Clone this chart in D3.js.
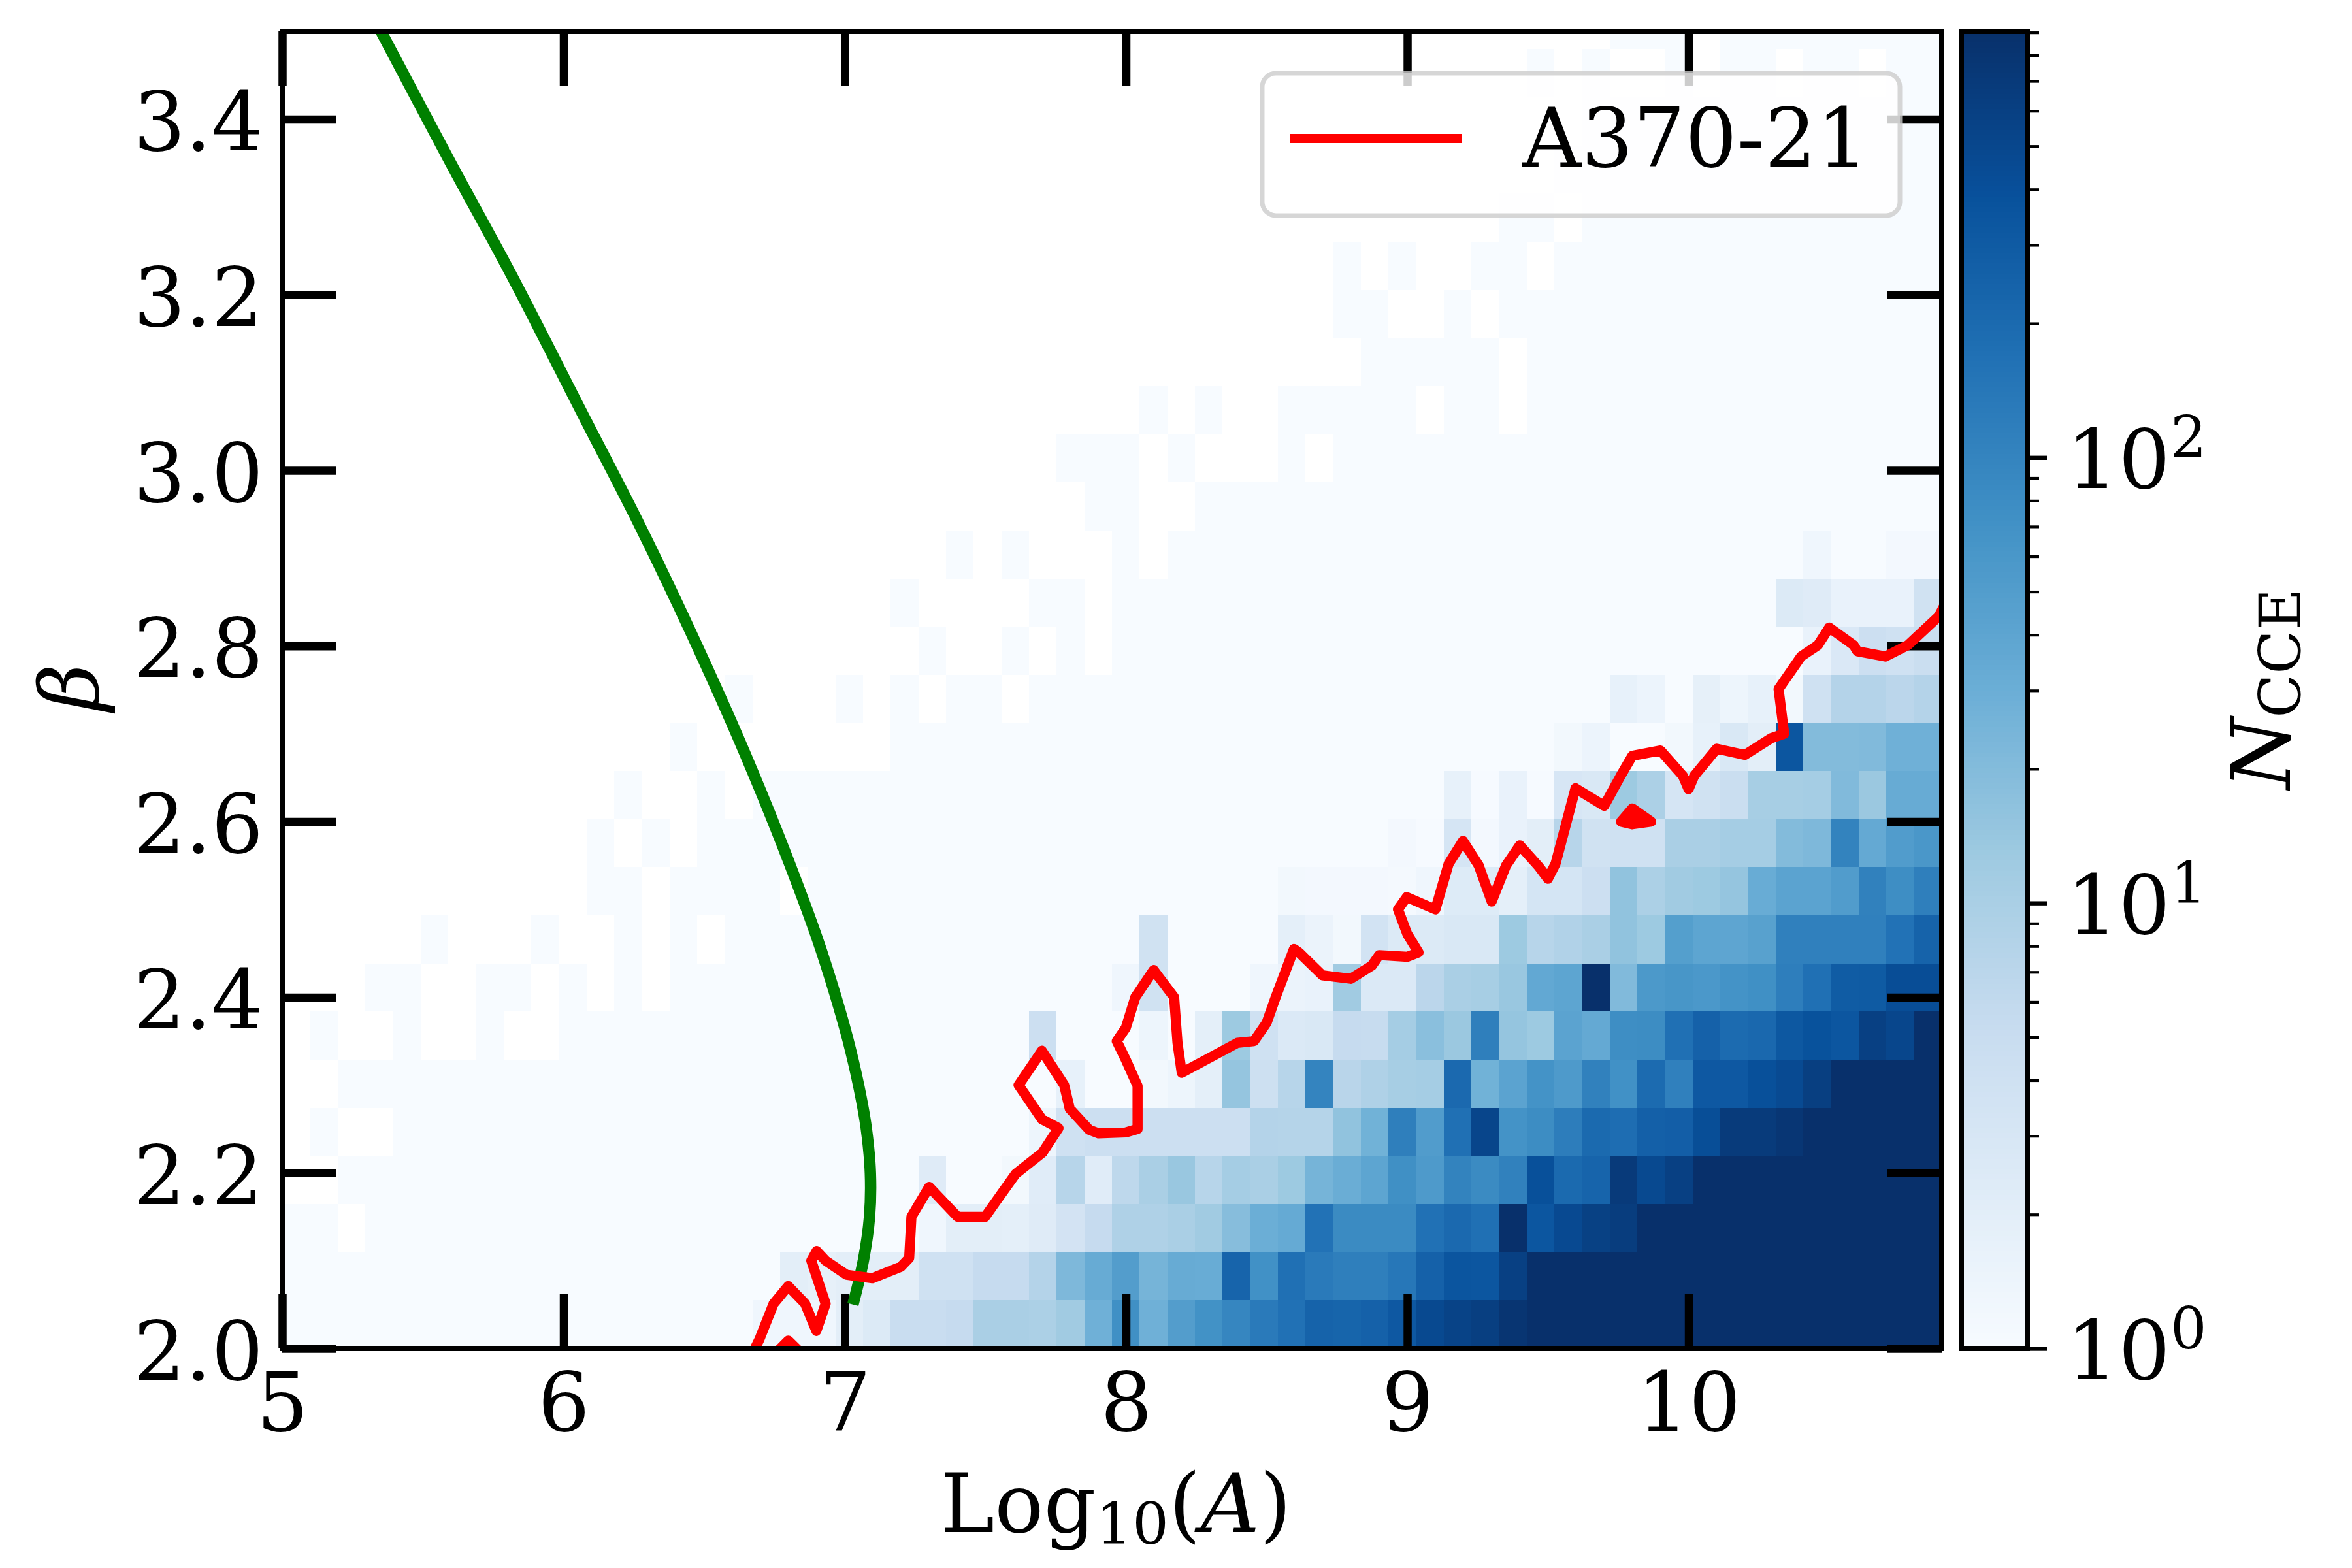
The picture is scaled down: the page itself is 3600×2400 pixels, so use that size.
<!DOCTYPE html>
<html>
<head>
<meta charset="utf-8">
<style>html,body{margin:0;padding:0;background:#fff}svg{display:block}text{font-family:"DejaVu Serif",serif;fill:#000}</style>
<script src="https://cdn.jsdelivr.net/npm/d3@7"></script>
</head>
<body>
<script>
const xTicks = [5, 6, 7, 8, 9, 10];
const yTicks = [2.0, 2.2, 2.4, 2.6, 2.8, 3.0, 3.2, 3.4];
const cbarMajor = [1, 10, 100];
const cbarExponents = ["0", "1", "2"];
const cbarMinor = [2,3,4,5,6,7,8,9,20,30,40,50,60,70,80,90,200,300,400,500,600,700,800,900];
const blues = ["#f7fbff","#deebf7","#c6dbef","#9ecae1","#6baed6","#4292c6","#2171b5","#08519c","#08306b"];
const xBinWidth = 5.9 / 60;
const yBinWidth = 0.0548;
const legendLabel = "A370-21";

// counts, bottom row first; 0 = empty bin
const countRows = [
[1,1,1,1,1,1,1,1,1,1,1,1,1,1,1,1,1,1.3,1.3,1.3,2,2.5,5,5,5.5,10,10,9.5,12,28,75,28,50,70,95,130,165,240,230,250,320,480,560,620,800,905,905,905,905,905,905,905,905,905,905,905,905,905,905,905],
[1,1,1,1,1,1,1,1,1,1,1,1,1,1,1,1,1,1,2,1.8,2,2,2,4,4,5.5,5.5,8,22,33,50,25,33,32,235,72,170,130,115,115,140,250,350,340,600,905,905,905,905,905,905,905,905,905,905,905,905,905,905,905],
[1,1,0,1,1,1,1,1,1,1,1,1,1,1,1,1,1,1,1,1,1,1,1,1.3,2,2,1.9,2.3,3.5,5.5,9,9,10,12,19,30,34,160,85,85,85,165,205,170,905,340,470,590,650,905,905,905,905,905,905,905,905,905,905,905],
[0,0,1,1,1,1,1,1,1,1,1,1,1,1,1,1,1,1,1,1,1,1,1,2.3,1,1,1.2,2.2,7.5,2.2,6.5,10,14,7.5,11,10,13,25,31,40,75,55,105,85,110,400,200,235,700,480,600,905,905,905,905,905,905,905,905,905],
[0,1,0,0,1,1,1,1,1,1,1,1,1,1,1,1,1,1,1,1,1,1,1,1,1,1,1,1.4,4,4.5,4.5,4.5,4.5,4.5,4.5,8,7.8,7.8,16,27,115,52,170,520,68,80,120,200,185,260,270,420,680,680,780,905,905,905,905,905],
[0,0,1,1,1,1,1,1,1,1,1,1,1,1,1,1,1,1,1,1,1,1,1,1,1,1,1,1,1.7,1,1,1.2,1.4,1.9,15,4.3,7.5,100,7.3,9,10.5,11,205,27,42,68,55,108,72,195,112,320,320,400,460,620,905,905,905,905],
[0,1,0,0,1,0,0,1,0,0,1,1,1,1,1,1,1,1,1,1,1,1,1,1,1,1,1,4.4,1,1,1,1.4,1,1.9,13,4,2.6,2.8,5.5,5.3,11,18,13.5,115,15,13,42,35,78,80,170,250,195,210,325,380,340,600,510,905],
[0,0,0,1,1,0,0,1,1,0,1,0,1,0,1,1,1,1,1,1,1,1,1,1,1,1,1,1,1,1,1.3,3.8,1,1,1,1.3,1.5,1.6,12,2.6,2.6,7,10,10.5,14,36,40,905,21,57,62,58,68,75,118,170,290,300,430,430],
[0,0,0,0,0,1,0,0,0,1,0,0,1,0,1,0,1,1,1,1,1,1,1,1,1,1,1,1,1,1,1,3.8,1,1,1,1,1.9,1.5,1.2,3.6,2.5,2.5,2.8,2.8,13,7.5,8.5,10,16,13,48,40,39,45,112,112,112,112,160,240],
[0,0,0,0,0,0,0,0,0,0,0,1,1,0,1,1,1,1,0,1,1,1,1,1,1,1,1,1,1,1,1,1,1,1,1,1,1.2,1.15,1.15,1.15,1.1,1.3,2.4,2.4,1.9,3.3,3.3,4.5,16,9.5,12,13,15,32,42,42,52,110,78,115],
[0,0,0,0,0,0,0,0,0,0,0,1,0,1,0,1,1,1,1,1,1,1,1,1,1,1,1,1,1,1,1,1,1,1,1,1,1,1,1,1,1.15,1.05,3.2,1.15,1.6,2,7.5,3.8,4,4,10,10,11,11,20,22,105,35,52,60],
[0,0,0,0,0,0,0,0,0,0,0,0,1,0,0,1,0,1,1,1,1,1,1,1,1,1,1,1,1,1,1,1,1,1,1,1,1,1,1,1,1,1,1.7,1.05,1.6,1.05,3,2.8,13,9.5,3.2,3.8,4.8,10.5,10.5,11,21,13.5,33,33],
[0,0,0,0,0,0,0,0,0,0,0,0,0,0,1,0,0,0,0,0,0,0,1,1,1,1,1,1,1,1,1,1,1,1,1,1,1,1,1,1,1,1,1,1,1,1,1.2,1.45,1,1,1.2,1.7,2.8,2,340,20,20,21,28,28],
[0,0,0,0,0,0,0,0,0,0,0,0,0,0,0,0,1,0,0,0,1,0,1,0,1,1,0,1,1,1,1,1,1,1,1,1,1,1,1,1,1,1,1,1,1,1,1,1,1.7,1.45,1,1.8,1.4,1.7,1.2,4,8,8,7,8],
[0,0,0,0,0,0,0,0,0,0,0,0,0,0,0,0,0,0,0,0,0,0,0,1,0,0,1,0,1,0,1,1,1,1,1,1,1,1,1,1,1,1,1,1,1,1,1,1,1,1,1,1,1,1,1,1.6,2.7,4.4,4,4.7],
[0,0,0,0,0,0,0,0,0,0,0,0,0,0,0,0,0,0,0,0,0,0,1,0,0,0,0,1,1,0,1,1,1,1,1,1,1,1,1,1,1,1,1,1,1,1,1,1,1,1,1,1,1,1,2.5,2.3,1.6,1.6,1.6,3.8],
[0,0,0,0,0,0,0,0,0,0,0,0,0,0,0,0,0,0,0,0,0,0,0,0,1,0,1,0,0,0,1,0,1,1,1,1,1,1,1,1,1,1,1,1,1,1,1,1,1,1,1,1,1,1,1,1.3,1,1,1.15,1.15],
[0,0,0,0,0,0,0,0,0,0,0,0,0,0,0,0,0,0,0,0,0,0,0,0,0,0,0,0,0,1,1,0,0,1,1,1,1,1,1,1,1,1,1,1,1,1,1,1,1,1,1,1,1,1,1,1,1,1,1,1],
[0,0,0,0,0,0,0,0,0,0,0,0,0,0,0,0,0,0,0,0,0,0,0,0,0,0,0,0,1,1,1,0,1,0,0,0,1,0,1,1,1,1,1,1,1,1,1,1,1,1,1,1,1,1,1,1,1,1,1,1],
[0,0,0,0,0,0,0,0,0,0,0,0,0,0,0,0,0,0,0,0,0,0,0,0,0,0,0,0,0,0,0,1,0,1,0,0,1,1,1,1,1,0,1,1,0,1,1,1,1,1,1,1,1,1,1,1,1,1,1,1],
[0,0,0,0,0,0,0,0,0,0,0,0,0,0,0,0,0,0,0,0,0,0,0,0,0,0,0,0,0,0,0,0,0,0,0,0,0,0,0,1,1,1,1,1,0,1,1,1,1,1,1,1,1,1,1,1,1,1,1,1],
[0,0,0,0,0,0,0,0,0,0,0,0,0,0,0,0,0,0,0,0,0,0,0,0,0,0,0,0,0,0,0,0,0,0,0,0,0,0,1,1,0,0,1,0,1,1,1,1,1,1,1,1,1,1,1,1,1,1,1,1],
[0,0,0,0,0,0,0,0,0,0,0,0,0,0,0,0,0,0,0,0,0,0,0,0,0,0,0,0,0,0,0,0,0,0,0,0,0,0,1,0,1,0,0,1,1,0,1,1,1,1,1,1,1,1,1,1,1,1,1,1],
[0,0,0,0,0,0,0,0,0,0,0,0,0,0,0,0,0,0,0,0,0,0,0,0,0,0,0,0,0,0,0,0,0,0,0,0,0,0,0,0,0,0,0,0,1,1,0,1,1,1,1,1,1,1,1,1,1,1,1,1],
[0,0,0,0,0,0,0,0,0,0,0,0,0,0,0,0,0,0,0,0,0,0,0,0,0,0,0,0,0,0,0,0,0,0,0,0,0,0,0,0,0,0,0,0,0,0,1,1,1,1,1,1,1,1,1,1,1,1,1,1],
[0,0,0,0,0,0,0,0,0,0,0,0,0,0,0,0,0,0,0,0,0,0,0,0,0,0,0,0,0,0,0,0,0,0,0,0,0,0,0,0,0,0,0,0,0,0,0,1,1,1,1,1,1,1,1,1,1,1,1,1],
[0,0,0,0,0,0,0,0,0,0,0,0,0,0,0,0,0,0,0,0,0,0,0,0,0,0,0,0,0,0,0,0,0,0,0,0,0,0,0,0,0,0,0,0,0,1,0,1,0,0,1,0,1,1,0,1,1,0,1,1],
[0,0,0,0,0,0,0,0,0,0,0,0,0,0,0,0,0,0,0,0,0,0,0,0,0,0,0,0,0,0,0,0,0,0,0,0,0,0,0,0,0,0,0,0,0,0,0,0,1,1,1,0,1,1,1,1,1,1,1,1]
];

const greenX = [5.351,5.599,5.814,6.081,6.259,6.407,6.592,6.702,6.799,6.903,6.965,7.011,7.049,7.076,7.091,7.088,7.066,7.029];
const greenY = [3.5,3.350,3.223,3.056,2.945,2.847,2.717,2.634,2.556,2.466,2.404,2.352,2.300,2.252,2.200,2.150,2.100,2.050];

const redX = [6.665,6.696,6.747,6.799,6.859,6.899,6.932,6.881,6.900,6.932,7.006,7.098,7.199,7.229,7.237,7.300,7.401,7.499,7.608,7.703,7.760,7.701,7.618,7.701,7.780,7.800,7.869,7.902,7.999,8.041,8.041,7.999,7.967,7.999,8.033,8.098,8.171,8.183,8.198,8.396,8.455,8.500,8.532,8.597,8.615,8.698,8.799,8.874,8.900,9.000,9.040,9.000,8.967,8.998,9.100,9.147,9.198,9.254,9.300,9.351,9.400,9.467,9.500,9.527,9.598,9.700,9.760,9.800,9.900,9.980,10.000,10.020,10.100,10.200,10.294,10.340,10.320,10.400,10.460,10.500,10.587,10.600,10.700,10.780,10.890,10.920];
const redY = [1.99,2.010,2.051,2.071,2.051,2.020,2.051,2.100,2.111,2.100,2.084,2.080,2.093,2.103,2.150,2.184,2.150,2.150,2.199,2.223,2.251,2.261,2.300,2.339,2.300,2.273,2.249,2.245,2.246,2.250,2.299,2.329,2.350,2.365,2.400,2.431,2.400,2.348,2.314,2.348,2.350,2.371,2.400,2.455,2.451,2.425,2.421,2.436,2.448,2.446,2.451,2.472,2.500,2.514,2.500,2.552,2.578,2.550,2.509,2.550,2.573,2.549,2.535,2.552,2.638,2.618,2.653,2.675,2.681,2.652,2.637,2.652,2.683,2.676,2.695,2.700,2.751,2.788,2.801,2.821,2.801,2.794,2.788,2.801,2.834,2.853];
const redLoopX = [9.800,9.760,9.800,9.867];
const redLoopY = [2.615,2.600,2.597,2.600];
const redFootX = [6.740,6.799,6.860];
const redFootY = [1.99,2.009,1.99];

const W = 3600, H = 2400;
const plot = {l:432, r:2972, t:48, b:2064};
const bar = {l:3002, r:3103};
const x = d3.scaleLinear().domain([5, 10.9]).range([plot.l, plot.r]);
const y = d3.scaleLinear().domain([2, 3.5]).range([plot.b, plot.t]);
const vmax = 905;
const ramp = d3.scaleLinear().domain(blues.map((_, i) => i / (blues.length - 1))).range(blues).interpolate(d3.interpolateRgb);
const norm = d3.scaleLog().domain([1, vmax]).range([0, 1]).clamp(true);
const color = v => ramp(norm(v));
const cy = d3.scaleLog().domain([1, vmax]).range([plot.b, plot.t]);

const svg = d3.select("body").append("svg").attr("width", W).attr("height", H).attr("viewBox", `0 0 ${W} ${H}`);
svg.append("rect").attr("width", W).attr("height", H).attr("fill", "#fff");
svg.append("clipPath").attr("id", "plotClip").append("rect")
  .attr("x", plot.l).attr("y", plot.t).attr("width", plot.r - plot.l).attr("height", plot.b - plot.t);

const FS = 125;
const cells = [];
countRows.forEach((row, r) => row.forEach((v, k) => { if (v > 0) cells.push({k, r, v}); }));
const gHeat = svg.append("g").attr("clip-path", "url(#plotClip)");
gHeat.selectAll("rect").data(cells).join("rect")
  .attr("x", d => x(5 + d.k * xBinWidth))
  .attr("width", d => x(5 + (d.k + 1) * xBinWidth) - x(5 + d.k * xBinWidth))
  .attr("y", d => y(2 + (d.r + 1) * yBinWidth))
  .attr("height", d => y(2 + d.r * yBinWidth) - y(2 + (d.r + 1) * yBinWidth))
  .attr("fill", d => color(d.v))
  .attr("shape-rendering", "crispEdges");

// ticks
function styleAxis(g, w) {
  g.select(".domain").remove();
  g.selectAll(".tick line").attr("stroke", "#000").attr("stroke-width", w);
}
const TL = 83, TW = 12.5;
const aBottom = svg.append("g").attr("transform", `translate(0,${plot.b})`)
  .call(d3.axisBottom(x).tickValues(xTicks).tickSize(-TL).tickFormat(d3.format("d")));
styleAxis(aBottom, TW);
aBottom.selectAll("text").attr("y", 126).attr("dy", 0).attr("font-size", FS).attr("font-family", "DejaVu Serif").attr("text-anchor", "middle");
const aTop = svg.append("g").attr("transform", `translate(0,${plot.t})`)
  .call(d3.axisTop(x).tickValues(xTicks).tickSize(-TL).tickFormat(""));
styleAxis(aTop, TW);
const aLeft = svg.append("g").attr("transform", `translate(${plot.l},0)`)
  .call(d3.axisLeft(y).tickValues(yTicks).tickSize(-TL).tickFormat(d3.format(".1f")));
styleAxis(aLeft, TW);
aLeft.selectAll("text").attr("x", -29).attr("dy", 47).attr("font-size", FS).attr("font-family", "DejaVu Serif").attr("text-anchor", "end");
const aRight = svg.append("g").attr("transform", `translate(${plot.r},0)`)
  .call(d3.axisRight(y).tickValues(yTicks).tickSize(-TL).tickFormat(""));
styleAxis(aRight, TW);

// lines
const line = d3.line().x(d => x(d[0])).y(d => y(d[1]));
const smooth = d3.line().x(d => x(d[0])).y(d => y(d[1])).curve(d3.curveCatmullRom.alpha(0.5));
const gLines = svg.append("g").attr("clip-path", "url(#plotClip)");
gLines.append("path").attr("d", smooth(greenX.map((v, i) => [v, greenY[i]])))
  .attr("fill", "none").attr("stroke", "#008000").attr("stroke-width", 17.5);
const redStyle = p => p.attr("fill", "none").attr("stroke", "#ff0000").attr("stroke-width", 15.5)
  .attr("stroke-linejoin", "round").attr("stroke-linecap", "round");
gLines.append("path").attr("d", line(redX.map((v, i) => [v, redY[i]]))).call(redStyle);
gLines.append("path").attr("d", line(redFootX.map((v, i) => [v, redFootY[i]]))).call(redStyle);
gLines.append("path").attr("d", line(redLoopX.map((v, i) => [v, redLoopY[i]])) + "Z").attr("fill", "#ff0000")
  .attr("stroke", "#ff0000").attr("stroke-width", 15.5).attr("stroke-linejoin", "round");

// spines
svg.append("rect").attr("x", plot.l).attr("y", plot.t).attr("width", plot.r - plot.l).attr("height", plot.b - plot.t)
  .attr("fill", "none").attr("stroke", "#000").attr("stroke-width", 8);

// legend
const gLegend = svg.append("g");
gLegend.append("rect").attr("x", 1932).attr("y", 112).attr("width", 976).attr("height", 218).attr("rx", 21).attr("ry", 21)
  .attr("fill", "#fff").attr("fill-opacity", 0.8).attr("stroke", "#cccccc").attr("stroke-opacity", 0.8).attr("stroke-width", 7);
gLegend.append("line").attr("x1", 1974).attr("x2", 2237).attr("y1", 212).attr("y2", 212)
  .attr("stroke", "#ff0000").attr("stroke-width", 14);
gLegend.append("text").attr("x", 2330).attr("y", 255).attr("font-size", FS).text(legendLabel);

// axis labels
const xl = svg.append("text").attr("x", 1708).attr("y", 2345).attr("text-anchor", "middle").attr("font-size", FS);
xl.append("tspan").text("Log");
xl.append("tspan").attr("font-size", FS * 0.7).attr("dy", 18).text("10");
xl.append("tspan").attr("dy", -18).text("(");
xl.append("tspan").attr("font-style", "italic").text("A");
xl.append("tspan").text(")");
svg.append("text").attr("transform", `translate(150,${(plot.t + plot.b) / 2 - 4}) rotate(-90)`)
  .attr("text-anchor", "middle").attr("font-size", FS).attr("font-style", "italic").text("β");

// colorbar
const levels = d3.range(256).map(i => i / 256);
const lv = t => Math.pow(vmax, t);
svg.append("g").selectAll("rect").data(levels).join("rect")
  .attr("x", bar.l).attr("width", bar.r - bar.l)
  .attr("y", d => cy(lv(d + 1 / 256)))
  .attr("height", d => cy(lv(d)) - cy(lv(d + 1 / 256)) + 1)
  .attr("fill", d => ramp(d + 0.5 / 256))
  .attr("shape-rendering", "crispEdges");
svg.append("rect").attr("x", bar.l).attr("y", plot.t).attr("width", bar.r - bar.l).attr("height", plot.b - plot.t)
  .attr("fill", "none").attr("stroke", "#000").attr("stroke-width", 8);
const cMajor = svg.append("g").attr("transform", `translate(${bar.r},0)`)
  .call(d3.axisRight(cy).tickValues(cbarMajor).tickSize(30).tickFormat(""));
styleAxis(cMajor, 6.4);
const cMinor = svg.append("g").attr("transform", `translate(${bar.r},0)`)
  .call(d3.axisRight(cy).tickValues(cbarMinor).tickSize(18).tickFormat(""));
styleAxis(cMinor, 4.2);
cbarMajor.forEach((v, i) => {
  const t = svg.append("text").attr("x", 3163).attr("y", cy(v) + 47).attr("font-size", FS);
  t.append("tspan").text("10");
  t.append("tspan").attr("font-size", FS * 0.7).attr("dy", -47).text(cbarExponents[i]);
});
const cl = svg.append("text").attr("transform", "translate(3505,1208) rotate(-90)").attr("font-size", FS);
cl.append("tspan").attr("font-style", "italic").text("N");
cl.append("tspan").attr("font-size", FS * 0.7).attr("dy", 16).text("CCE");
</script>
</body>
</html>
